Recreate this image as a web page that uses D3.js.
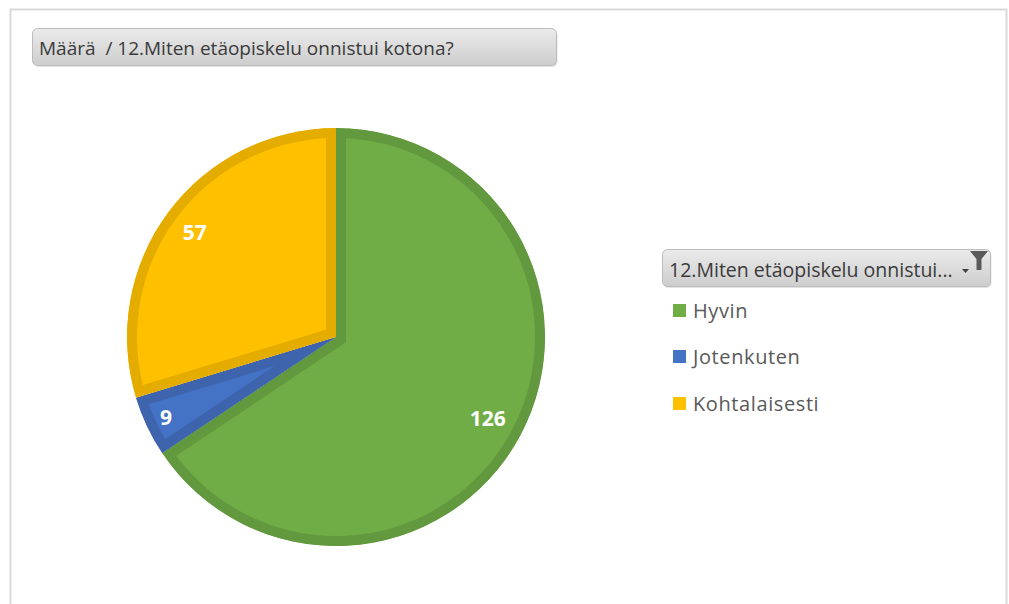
<!DOCTYPE html>
<html>
<head>
<meta charset="utf-8">
<script src="https://cdn.jsdelivr.net/npm/d3@7"></script>
<style>
  html, body { margin: 0; padding: 0; background: #fff; }
  svg { display: block; }
</style>
</head>
<body>
<script>
// pivot chart data
const categories = ["Hyvin", "Jotenkuten", "Kohtalaisesti"];
const values = [126, 9, 57];
const fills = ["#70AD47", "#4472C4", "#FFC000"];
const borders = ["#62993E", "#3E64AE", "#E5AC00"];
const titleText = "Määrä  / 12.Miten etäopiskelu onnistui kotona?";
const legendTitle = "12.Miten etäopiskelu onnistui...";

const width = 1009, height = 604;
const font = "'Open Sans', 'Noto Sans', sans-serif";

const svg = d3.select("body").append("svg")
  .attr("width", width)
  .attr("height", height);

const defs = svg.append("defs");
const grad = defs.append("linearGradient")
  .attr("id", "btn").attr("x1", 0).attr("y1", 0).attr("x2", 0).attr("y2", 1);
grad.append("stop").attr("offset", "0%").attr("stop-color", "#ebebeb");
grad.append("stop").attr("offset", "100%").attr("stop-color", "#cdcdcd");

// outer frame
svg.append("rect")
  .attr("x", 10.5).attr("y", 9.5)
  .attr("width", 996).attr("height", 640)
  .attr("fill", "none")
  .attr("stroke", "#d9d9d9")
  .attr("stroke-width", 2);

// field buttons
function button(x, y, w, h) {
  const g = svg.append("g");
  g.append("rect")
    .attr("x", x + 1).attr("y", y + 1.5)
    .attr("width", w).attr("height", h).attr("rx", 5)
    .attr("fill", "#e3e3e3");
  g.append("rect")
    .attr("x", x).attr("y", y)
    .attr("width", w).attr("height", h).attr("rx", 5)
    .attr("fill", "url(#btn)")
    .attr("stroke", "#bcbcbc");
  return g;
}

button(32.5, 28.5, 524, 37);
svg.append("text")
  .attr("x", 39).attr("y", 55)
  .attr("font-family", font)
  .attr("font-size", 19)
  .attr("fill", "#3a3a3a")
  .attr("xml:space", "preserve")
  .style("white-space", "pre")
  .text(titleText);

// pie
const cx = 336, cy = 337, r = 209;
const labelRadius = [172, 188, 176];
const pie = d3.pie().sort(null).value(d => d)(values);
const arc = d3.arc().innerRadius(0).outerRadius(r);

const pg = svg.append("g").attr("transform", `translate(${cx},${cy})`);

pie.forEach((d, i) => {
  defs.append("clipPath").attr("id", "clip" + i)
    .append("path").attr("d", arc(d));
});

pg.selectAll("path.slice")
  .data(pie)
  .join("path")
  .attr("class", "slice")
  .attr("d", arc)
  .attr("fill", (d, i) => fills[i])
  .attr("stroke", (d, i) => borders[i])
  .attr("stroke-width", 20)
  .attr("stroke-linejoin", "miter")
  .attr("clip-path", (d, i) => `url(#clip${i})`);

pg.selectAll("text.lbl")
  .data(pie)
  .join("text")
  .attr("class", "lbl")
  .attr("transform", (d, i) => {
    const la = d3.arc().innerRadius(labelRadius[i]).outerRadius(labelRadius[i]);
    return `translate(${la.centroid(d)})`;
  })
  .attr("text-anchor", "middle")
  .attr("dy", "0.36em")
  .attr("font-family", font)
  .attr("font-weight", "bold")
  .attr("font-size", 21)
  .attr("fill", "#fff")
  .text(d => d.data);

// legend
const lx = 662.5, ly = 249.5;
button(lx, ly, 328, 37);
svg.append("text")
  .attr("x", 669).attr("y", 277)
  .attr("font-family", font)
  .attr("font-size", 19.5)
  .attr("fill", "#3a3a3a")
  .text(legendTitle);

// dropdown arrow + filter icon
svg.append("path")
  .attr("d", "M962,269 L969,269 L965.5,273 Z")
  .attr("fill", "#404040");
svg.append("path")
  .attr("d", "M970,251 L988,251 L981.5,259 L981.5,270 L976.5,270 L976.5,259 Z")
  .attr("fill", "#5a5a5a");

const baselines = [318, 364, 411];
const items = svg.append("g").selectAll("g")
  .data(categories)
  .join("g")
  .attr("transform", (d, i) => `translate(673,${baselines[i]})`);

items.append("rect")
  .attr("x", 0).attr("y", -14)
  .attr("width", 13).attr("height", 13)
  .attr("fill", (d, i) => fills[i]);

items.append("text")
  .attr("x", 20).attr("y", 0)
  .attr("font-family", font)
  .attr("font-size", 20)
  .attr("letter-spacing", 0.6)
  .attr("fill", "#595959")
  .text(d => d);
</script>
</body>
</html>
